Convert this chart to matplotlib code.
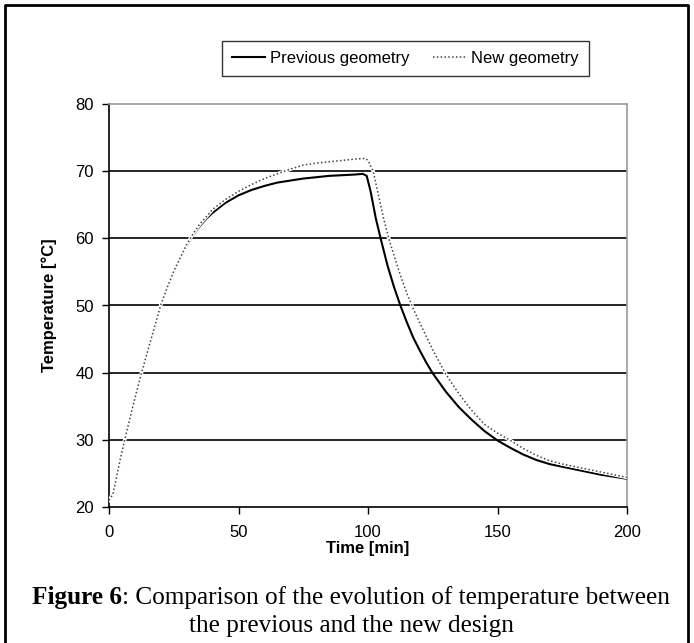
import matplotlib
matplotlib.use("Agg")
import matplotlib.pyplot as plt
from matplotlib.lines import Line2D

# time [min] and temperature [degC]
prev_time = [0, 1.5, 3, 4.5, 6, 8, 10, 12.5, 15, 17.5, 20, 22.5, 25, 27.5, 30, 32.5, 35,
             37.5, 40, 43, 45, 50, 55, 60, 65, 70, 75, 80, 85, 90, 95, 98, 99.5,
             101, 103, 105, 107.5, 110, 112.5, 115, 117.5, 120, 122.5, 125, 130,
             135, 140, 145, 150, 155, 160, 165, 170, 175, 180, 185, 190, 195, 200]
prev_temp = [21.0, 21.8, 24.5, 27.3, 29.8, 33.0, 36.2, 39.8, 43.2, 46.6, 50.0, 52.6,
             55.0, 57.0, 58.9, 60.5, 61.8, 62.9, 63.8, 64.7, 65.3, 66.4, 67.2, 67.8,
             68.3, 68.6, 68.9, 69.1, 69.3, 69.4, 69.5, 69.6, 69.3, 67.0, 63.0, 59.8,
             56.0, 52.8, 50.0, 47.5, 45.2, 43.3, 41.5, 39.9, 37.2, 34.9, 33.0, 31.3,
             29.9, 28.8, 27.8, 27.0, 26.4, 26.0, 25.6, 25.2, 24.8, 24.5, 24.2]

new_time = [0, 1.5, 3, 4.5, 6, 8, 10, 12.5, 15, 17.5, 20, 22.5, 25, 27.5, 30, 32.5, 35,
            40, 43, 45, 50, 55, 60, 65, 70, 75, 80, 85, 90, 95, 99, 100, 102, 104,
            106, 108, 110, 112.5, 115, 117.5, 120, 125, 130, 135, 140, 145, 150,
            155, 160, 165, 170, 175, 180, 185, 190, 195, 200]
new_temp = [21.0, 21.9, 24.6, 27.4, 29.9, 33.1, 36.2, 39.9, 43.3, 46.7, 50.1, 52.7,
            55.1, 57.1, 59.1, 60.7, 62.1, 64.3, 65.2, 65.8, 67.0, 68.0, 68.9, 69.6,
            70.3, 70.9, 71.2, 71.4, 71.6, 71.8, 71.9, 71.6, 70.0, 66.5, 63.0, 60.0,
            57.5, 54.5, 51.8, 49.5, 47.4, 43.4, 39.8, 36.9, 34.4, 32.3, 31.0, 29.9,
            28.7, 27.7, 26.9, 26.4, 26.0, 25.6, 25.2, 24.8, 24.4]

x_ticks = [0, 50, 100, 150, 200]
y_ticks = [20, 30, 40, 50, 60, 70, 80]

plt.rcParams['font.family'] = ['Liberation Sans', 'DejaVu Sans']

fig = plt.figure(figsize=(6.94, 6.43), dpi=100)
ax = fig.add_axes([109 / 694, 1 - 507 / 643, (627 - 109) / 694, (507 - 104) / 643])

for y in y_ticks[1:-1]:
    ax.axhline(y, color='black', lw=1.2, zorder=1)

dotted = (0, (1, 1.5))
ax.plot(prev_time, prev_temp, color='black', lw=1.5, zorder=3)
# white underlay beneath the dotted series hides the solid one where they overlap
ax.plot(new_time, new_temp, color='white', lw=2.6, zorder=3.5)
ax.plot(new_time, new_temp, color='#444444', lw=1.1, linestyle=dotted, zorder=4)

ax.set_xlim(0, 200)
ax.set_ylim(20, 80)
ax.set_xticks(x_ticks)
ax.set_yticks(y_ticks)
ax.tick_params(direction='out', length=5, width=1, labelsize=12, colors='black')
ax.tick_params(axis='x', pad=8)
ax.tick_params(axis='y', pad=6)
for s in ['left', 'bottom']:
    ax.spines[s].set_color('black')
    ax.spines[s].set_linewidth(1.2)
for s in ['top', 'right']:
    ax.spines[s].set_color('#999999')
    ax.spines[s].set_linewidth(1.2)

ax.set_xlabel('Time [min]', fontsize=12, fontweight='bold', labelpad=1)
ax.set_ylabel('Temperature [°C]', fontsize=12, fontweight='bold', labelpad=13)

handles = [Line2D([], [], color='black', lw=1.5),
           Line2D([], [], color='#444444', lw=1.1, linestyle=dotted)]
leg = fig.legend(handles, ['Previous geometry', 'New geometry'], ncol=2,
                 loc='upper left', bbox_to_anchor=(222 / 694, 1 - 41 / 643),
                 frameon=True, fancybox=False, fontsize=12, handlelength=2.0,
                 handletextpad=0.3, columnspacing=1.4, borderpad=0.6,
                 borderaxespad=0)
leg.get_frame().set_edgecolor('black')
leg.get_frame().set_linewidth(1.0)

# caption below the chart
fig.canvas.draw()
renderer = fig.canvas.get_renderer()
cap_size = 18.2
y1 = 1 - 604 / 643
t_bold = fig.text(0, y1, 'Figure 6', fontsize=cap_size, fontweight='bold',
                  family='Liberation Serif', va='baseline')
t_rest = fig.text(0, y1, ': Comparison of the evolution of temperature between',
                  fontsize=cap_size, family='Liberation Serif', va='baseline')
wb = t_bold.get_window_extent(renderer).width
wr = t_rest.get_window_extent(renderer).width
x0 = (fig.bbox.width - wb - wr) / 2 + 4
t_bold.set_x(x0 / fig.bbox.width)
t_rest.set_x((x0 + wb) / fig.bbox.width)
fig.text(0.5 + 4 / 694, 1 - 632 / 643, 'the previous and the new design', fontsize=cap_size,
         family='Liberation Serif', ha='center', va='baseline')

# frame around the figure
fig.add_artist(Line2D([5 / 694, 5 / 694, 688 / 694, 688 / 694], [0, 1 - 5 / 643, 1 - 5 / 643, 0],
                      transform=fig.transFigure, color='black', lw=2))

fig.savefig('out.png', dpi=100)
